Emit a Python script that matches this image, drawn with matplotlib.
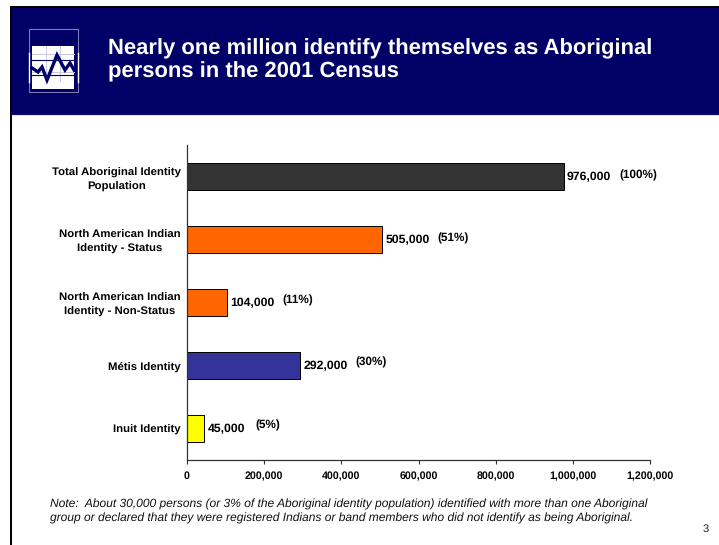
import matplotlib
matplotlib.use("Agg")
import matplotlib.pyplot as plt
from matplotlib.patches import Rectangle
from matplotlib.ticker import FuncFormatter, MultipleLocator

plt.rcParams["font.family"] = ["Liberation Sans", "DejaVu Sans"]
plt.rcParams["text.hinting"] = "no_hinting"

categories = ["Total Aboriginal Identity\nPopulation",
              "North American Indian\nIdentity - Status",
              "North American Indian\nIdentity - Non-Status",
              "Métis Identity",
              "Inuit Identity"]
counts = [976000, 505000, 104000, 292000, 45000]
shares = ["(100%)", "(51%)", "(11%)", "(30%)", "(5%)"]
colors = ["#333333", "#ff6600", "#ff6600", "#333399", "#ffff00"]

title = "Nearly one million identify themselves as Aboriginal\npersons in the 2001 Census"
note = ("Note:  About 30,000 persons (or 3% of the Aboriginal identity population) identified with more than one Aboriginal\n"
        "group or declared that they were registered Indians or band members who did not identify as being Aboriginal.")

W, H = 719, 545
fig = plt.figure(figsize=(W / 100, H / 100), dpi=100)

# slide furniture, in pixel coordinates
bg = fig.add_axes([0, 0, 1, 1])
bg.set_xlim(0, W)
bg.set_ylim(H, 0)
bg.axis("off")
navy = "#000066"
bg.add_patch(Rectangle((10, 6), W - 10, 108.5, fc=navy, ec="none"))
bg.add_patch(Rectangle((10, 6), W - 10, 2, fc="black", ec="none"))
bg.add_patch(Rectangle((10, 6), 2, H - 6, fc="black", ec="none"))
bg.plot([12, W], [114.5, 114.5], color="#e8e4d0", lw=0.8)

# logo
bg.add_patch(Rectangle((28.5, 29), 49, 63, fc="none", ec="#7a7ab0", lw=0.8))
bg.add_patch(Rectangle((32, 46), 42, 43, fc="white", ec="none"))
bg.plot([28.5, 28.5], [53, 82], color="white", lw=1)
bg.plot([77.5, 77.5], [53, 82], color="white", lw=1)
for gx in [46, 60]:
    bg.plot([gx, gx], [46, 81], color="#c8c8de", lw=0.7)
for gy in [54, 72]:
    bg.plot([32, 74], [gy, gy], color="#c8c8de", lw=0.7)
for gy in [60, 75]:
    bg.plot([32, 74], [gy, gy], color=navy, lw=0.8)
bg.plot([32, 38, 42, 47, 57, 65, 70, 74], [68, 72, 67, 80, 55, 70, 63, 70],
        color=navy, lw=2.4, solid_joinstyle="miter")

bg.text(108, 60, title, color="white", fontsize=15.8, fontweight="bold",
        va="center", ha="left", linespacing=1.16)
bg.text(49.5, 511.5, note, fontsize=8.65, style="italic", va="center", ha="left",
        color="#111111", linespacing=1.3)
bg.text(706, 529, "3", fontsize=8, va="center", ha="center", color="#222222")

# bar chart
x0, x1, y0, y1 = 187, 650, 460, 145
ax = fig.add_axes([x0 / W, 1 - y0 / H, (x1 - x0) / W, (y0 - y1) / H])
ypos = range(len(counts))
ax.barh(ypos, counts, height=0.415, color=colors, edgecolor="black", linewidth=0.7)
ax.set_xlim(0, 1200000)
ax.set_ylim(len(counts) - 0.5, -0.5)
ax.set_yticks(list(ypos))
ax.set_yticklabels(categories, fontsize=8.2, fontweight="bold", linespacing=1.45,
                   multialignment="center")
ax.xaxis.set_major_locator(MultipleLocator(200000))
ax.xaxis.set_major_formatter(FuncFormatter(lambda v, p: f"{int(v):,}"))
for lab in ax.get_xticklabels():
    lab.set_fontsize(7.7)
    lab.set_fontweight("bold")
ax.tick_params(axis="x", length=3, width=0.8, direction="out", pad=5, color="#333333")
ax.tick_params(axis="y", length=0, pad=4.5)
for side in ["top", "right"]:
    ax.spines[side].set_visible(False)
for side in ["left", "bottom"]:
    ax.spines[side].set_linewidth(0.9)
    ax.spines[side].set_color("#333333")

# share labels sit a little above the counts, drifting up toward the bottom
share_rise = [1, 1, 1.5, 2.2, 2.2]
for i, (c, s) in enumerate(zip(counts, shares)):
    ax.annotate(f"{c:,}", (c, i), xytext=(2.5, -0.5), textcoords="offset points",
                fontsize=8.8, fontweight="bold", va="center", ha="left")
    gap = 40 if c >= 100000 else 37
    ax.annotate(s, (c, i), xytext=(gap, share_rise[i]), textcoords="offset points",
                fontsize=8.5, fontweight="bold", va="center", ha="left")

fig.savefig("out.png", dpi=100, facecolor="white")
